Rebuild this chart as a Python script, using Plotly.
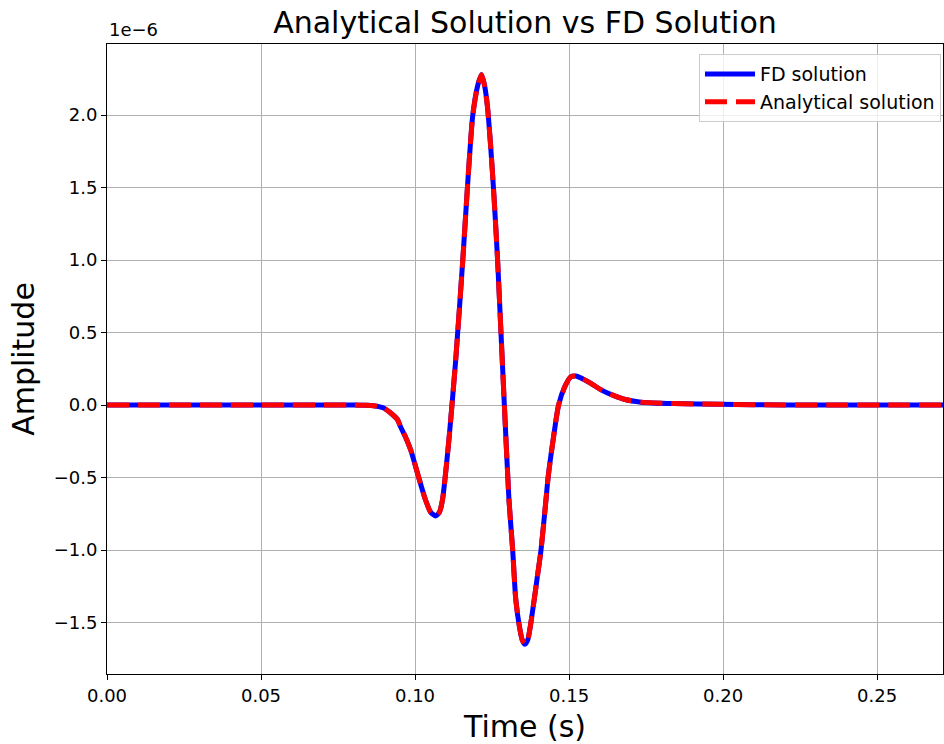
import plotly.graph_objects as go

# Time samples (s)
time_s = [0.0, 0.02, 0.04, 0.06, 0.08, 0.0840, 0.0865, 0.0898, 0.0921, 0.0943, 0.0953,
          0.0969, 0.0986, 0.1012, 0.1034, 0.1051, 0.1067, 0.1079, 0.1089, 0.1110,
          0.1132, 0.1155, 0.1171, 0.1187, 0.1203, 0.1216, 0.1226, 0.1235, 0.1245,
          0.1256, 0.1268, 0.1279, 0.1290, 0.1305, 0.1317, 0.1327, 0.1339, 0.1348,
          0.1357, 0.1366, 0.1374, 0.1387, 0.1398, 0.1409, 0.1425, 0.1432, 0.1447,
          0.1466, 0.1487, 0.1506, 0.1522, 0.1545, 0.1571, 0.1600, 0.1625, 0.1679,
          0.1734, 0.1841, 0.1994, 0.22, 0.24, 0.26, 0.2714]

# Amplitude in units of 1e-6
fd_amp = [0.0, 0.0, 0.0, 0.0, 0.0, -0.002, -0.005, -0.02, -0.055, -0.10, -0.15,
          -0.22, -0.31, -0.50, -0.655, -0.74, -0.765, -0.74, -0.655, -0.24,
          0.31, 1.0, 1.53, 1.99, 2.20, 2.28, 2.20, 2.06, 1.80,
          1.45, 1.0, 0.50, 0.0, -0.655, -1.0, -1.34, -1.53, -1.62,
          -1.65, -1.62, -1.53, -1.34, -1.17, -1.0, -0.655, -0.50, -0.26,
          0.0, 0.13, 0.195, 0.20, 0.18, 0.15, 0.11, 0.083, 0.04,
          0.02, 0.01, 0.005, 0.0, 0.0, 0.0, 0.0]
analytical_amp = list(fd_amp)

x_ticks = [0.0, 0.05, 0.10, 0.15, 0.20, 0.25]
y_ticks = [-1.5, -1.0, -0.5, 0.0, 0.5, 1.0, 1.5, 2.0]

FONT = "DejaVu Sans"

fig = go.Figure()
fig.add_trace(go.Scatter(x=time_s, y=fd_amp, mode="lines", name="FD solution",
                         line=dict(color="#0000ff", width=5, shape="spline", smoothing=0.6)))
fig.add_trace(go.Scatter(x=time_s, y=analytical_amp, mode="lines", name="Analytical solution",
                         line=dict(color="#ff0000", width=5, dash="22px,9px", shape="spline", smoothing=0.6)))

axis_common = dict(showline=True, linecolor="black", linewidth=1, mirror=True,
                   ticks="outside", ticklen=5, tickwidth=1, tickcolor="black",
                   showgrid=True, gridcolor="#b0b0b0", gridwidth=1, zeroline=False,
                   tickfont=dict(family=FONT, size=18, color="black"))

fig.update_layout(
    width=944, height=744,
    margin=dict(l=107, r=1, t=44, b=70),
    paper_bgcolor="white", plot_bgcolor="white",
    font=dict(family=FONT, color="black"),
    title=dict(text="Analytical Solution vs FD Solution", x=0.5, xref="paper",
               y=1 - 22 / 744, yref="container", yanchor="middle", xanchor="center",
               font=dict(family=FONT, size=30, color="black")),
    xaxis=dict(range=[0, 0.2714], tickvals=x_ticks, tickformat=".2f",
               title=dict(text="Time (s)", font=dict(family=FONT, size=30), standoff=13),
               **axis_common),
    yaxis=dict(range=[-1.855, 2.49], tickvals=y_ticks, tickformat=".1f",
               title=dict(text="Amplitude", font=dict(family=FONT, size=30), standoff=10),
               **axis_common),
    legend=dict(x=0.9976, y=0.984, xanchor="right", yanchor="top", itemwidth=50,
                bgcolor="rgba(255,255,255,0.8)", bordercolor="#cccccc", borderwidth=1,
                font=dict(family=FONT, size=19, color="black")),
    annotations=[dict(text="1e\u22126", x=0, y=1, xref="paper", yref="paper",
                      xanchor="left", yanchor="bottom", yshift=2, showarrow=False,
                      font=dict(family=FONT, size=18, color="black"))],
)

fig.write_html("out.html", config={"displayModeBar": False},
               post_script="document.body.style.margin='0';document.body.style.padding='0';"
                           "document.body.style.overflow='hidden';")
